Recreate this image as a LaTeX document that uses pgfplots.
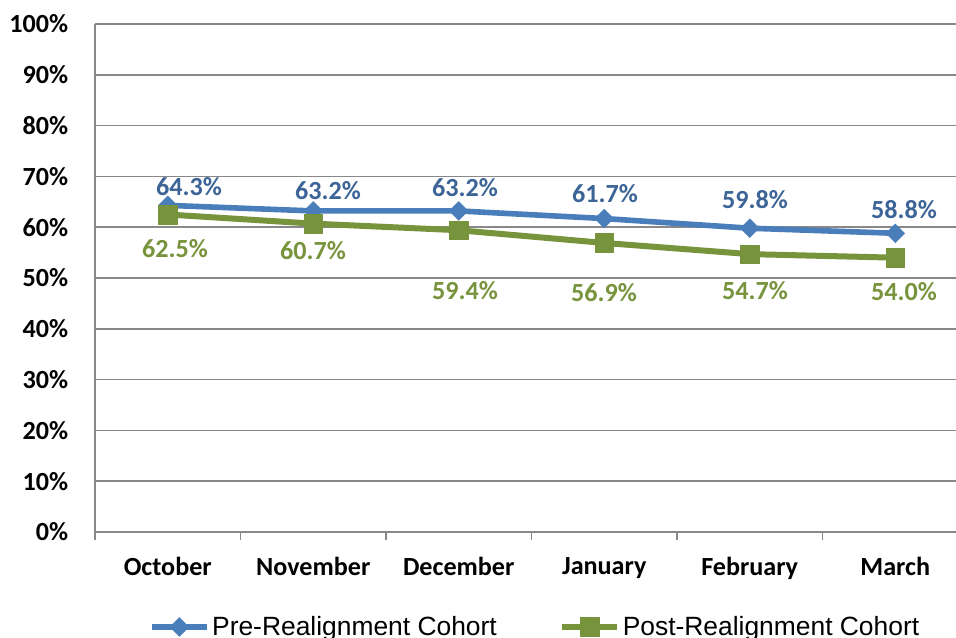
\documentclass[border=0pt]{standalone}
\usepackage{fontspec}
\setmainfont{Carlito}
\newfontfamily\arialfont{Liberation Sans}
\usepackage{pgfplots}
\pgfplotsset{compat=1.18}
\definecolor{blueL}{HTML}{4A7EBB}
\definecolor{blueT}{HTML}{3C6496}
\definecolor{greenL}{HTML}{77933C}
\definecolor{gridc}{HTML}{888888}
\begin{document}
\begin{tikzpicture}
\begin{axis}[
  at={(0,0)}, anchor=south west, scale only axis,
  width=654.75pt, height=381pt,
  xmin=-0.5, xmax=5.5, ymin=0, ymax=100,
  clip=false,
  /pgf/number format/assume math mode=true,
  axis x line=bottom, axis y line=left,
  axis line style={-, draw=gridc, line width=1.1pt},
  ytick={0,10,...,100},
  yticklabels={0\%,10\%,20\%,30\%,40\%,50\%,60\%,70\%,80\%,90\%,100\%},
  ymajorgrids, grid style={draw=gridc, line width=1.1pt},
  xtick={0,1,2,3,4,5},
  xticklabels={October,November,December,January,February,March},
  major tick length=0pt,
  extra x ticks={-0.5,0.5,1.5,2.5,3.5,4.5,5.5},
  extra x tick labels={},
  extra x tick style={major tick length=6pt, tick align=outside, grid=none, tick style={draw=gridc, line width=1.1pt}},
  ticklabel style={font=\bfseries\fontsize{19.6}{22}\selectfont, text=black},
  yticklabel style={anchor=east, inner sep=0pt, xshift=-20pt},
  xticklabel style={anchor=north, inner sep=0pt, yshift=-19pt},
  legend columns=2,
  legend style={at={(axis description cs:0.0618,-0.187)}, anchor=west, draw=none, fill=none,
    inner sep=0pt, font=\arialfont\fontsize{19.8}{22}\selectfont,
    /tikz/every even column/.append style={column sep=45pt}},
  legend image code/.code={\draw[#1, mark repeat=2, mark phase=2] plot coordinates {(0pt,0pt) (20.5pt,0pt) (41pt,0pt)};},
]
\addplot[blueL, line width=4.2pt, line join=round, mark=square*, mark size=5pt, mark options={rotate=45, line width=0.3pt, fill=blueL, draw=blueL}]
  coordinates {(0,64.3) (1,63.2) (2,63.2) (3,61.7) (4,59.8) (5,58.8)};
\addlegendentry{Pre-Realignment Cohort}
\addplot[greenL, line width=4.5pt, line join=round, mark=square*, mark size=7pt, mark options={line width=0.3pt, fill=greenL, draw=greenL}]
  coordinates {(0,62.5) (1,60.7) (2,59.4) (3,56.9) (4,54.7) (5,54.0)};
\addlegendentry{Post-Realignment Cohort}
\addplot[draw=none, mark=none, forget plot, point meta=explicit,
  nodes near coords={\pgfmathprintnumber[fixed,fixed zerofill,precision=1]{\pgfplotspointmeta}\%},
  every node near coord/.append style={anchor=center, inner sep=0pt, font=\bfseries\fontsize{19.6}{22}\selectfont, text=blueT}]
  table[meta=v] {
x y v
0.146 67.9 64.3
1.101 67.3 63.2
2.043 67.7 63.2
3.005 66.7 61.7
4.036 65.4 59.8
5.06 63.4 58.8
};
\addplot[draw=none, mark=none, forget plot, point meta=explicit,
  nodes near coords={\pgfmathprintnumber[fixed,fixed zerofill,precision=1]{\pgfplotspointmeta}\%},
  every node near coord/.append style={anchor=center, inner sep=0pt, font=\bfseries\fontsize{19.6}{22}\selectfont, text=greenL}]
  table[meta=v] {
x y v
0.05 55.7 62.5
0.998 55.3 60.7
2.043 47.6 59.4
2.998 47.2 56.9
4.036 47.6 54.7
5.06 47.4 54.0
};
\end{axis}
\pgfresetboundingbox
\useasboundingbox (-71.25pt,-79.5pt) rectangle (645.75pt,399pt);
\end{tikzpicture}
\end{document}
